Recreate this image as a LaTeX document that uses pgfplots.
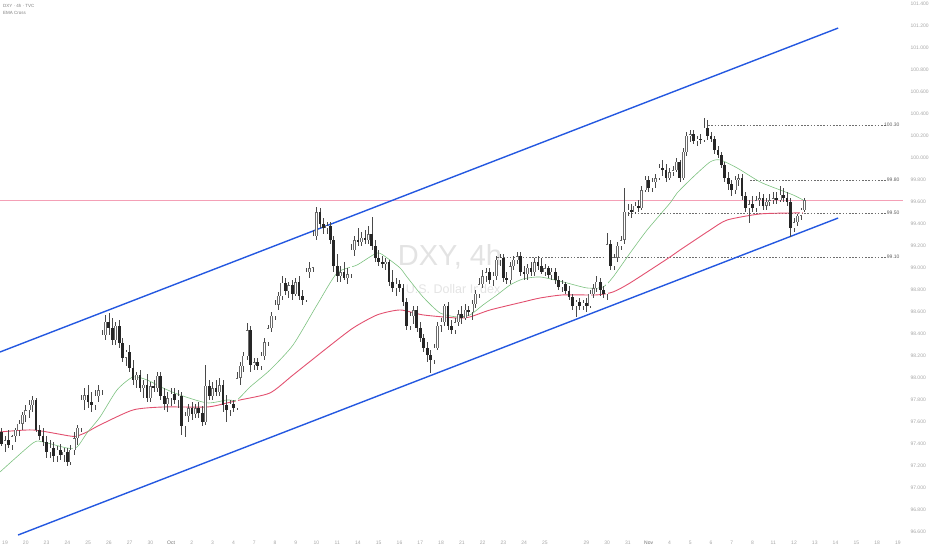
\documentclass[border=0pt]{standalone}
\usepackage{fontspec}
\setmainfont{Liberation Sans}
\usepackage{pgfplots}
\usepackage{pgfplotstable}
\pgfplotsset{compat=1.18}

\definecolor{chan}{HTML}{2458E0}
\definecolor{emafast}{HTML}{7DC280}
\definecolor{emaslow}{HTML}{E2506F}
\definecolor{priceln}{RGB}{244,160,182}
\definecolor{candle}{HTML}{262626}
\definecolor{outline}{HTML}{6A6A6A}
\definecolor{wick}{HTML}{4A4A4A}
\definecolor{lbl}{HTML}{A6A6A6}
\definecolor{wm}{HTML}{E3E3E3}
\definecolor{lvl}{HTML}{6E6E6E}

% 4h candles, one row per bar: open high low close
\pgfplotstableread{
o h l c
97.509 97.545 97.381 97.400
97.400 97.472 97.327 97.436
97.436 97.527 97.363 97.391
97.391 97.482 97.345 97.472
97.472 97.545 97.418 97.527
97.527 97.618 97.472 97.582
97.582 97.691 97.527 97.664
97.664 97.755 97.600 97.709
97.709 97.800 97.636 97.755
97.755 97.836 97.691 97.800
97.800 97.818 97.509 97.527
97.527 97.573 97.436 97.472
97.472 97.545 97.381 97.418
97.418 97.472 97.273 97.327
97.327 97.436 97.273 97.363
97.363 97.418 97.236 97.291
97.291 97.381 97.236 97.345
97.345 97.400 97.255 97.300
97.300 97.363 97.236 97.327
97.327 97.363 97.200 97.236
97.236 97.391 97.209 97.345
97.345 97.509 97.300 97.454
97.454 97.573 97.391 97.545
97.545 97.845 97.509 97.800
97.800 97.909 97.709 97.845
97.845 97.936 97.727 97.782
97.782 97.873 97.691 97.755
97.755 97.891 97.709 97.836
97.836 97.936 97.782 97.891
97.891 98.436 97.845 98.391
98.391 98.573 98.345 98.509
98.509 98.591 98.391 98.454
98.454 98.545 98.300 98.345
98.345 98.509 98.300 98.472
98.472 98.527 98.273 98.318
98.318 98.364 98.145 98.182
98.182 98.255 98.109 98.236
98.236 98.300 98.055 98.091
98.091 98.164 97.936 97.982
97.982 98.055 97.909 98.027
98.027 98.073 97.873 97.909
97.909 97.982 97.818 97.936
97.936 98.036 97.782 97.818
97.818 97.964 97.782 97.927
97.927 97.982 97.873 97.909
97.909 98.055 97.873 98.018
98.018 98.055 97.800 97.836
97.836 97.909 97.709 97.764
97.764 97.873 97.691 97.818
97.818 97.909 97.745 97.855
97.855 97.909 97.764 97.800
97.800 97.891 97.727 97.836
97.836 97.873 97.482 97.564
97.564 97.691 97.463 97.655
97.655 97.764 97.600 97.727
97.727 97.782 97.618 97.673
97.673 97.764 97.636 97.727
97.727 97.782 97.636 97.682
97.682 97.745 97.564 97.600
97.600 98.118 97.573 97.927
97.927 97.982 97.800 97.836
97.836 97.964 97.800 97.909
97.909 97.982 97.836 97.873
97.873 98.000 97.836 97.936
97.936 97.982 97.691 97.755
97.755 97.845 97.600 97.709
97.709 97.800 97.655 97.764
97.764 97.800 97.691 97.727
97.727 98.055 97.709 98.000
98.000 98.145 97.936 98.109
98.109 98.236 98.055 98.200
98.200 98.500 98.164 98.436
98.436 98.472 98.055 98.118
98.118 98.182 98.073 98.145
98.145 98.182 98.073 98.109
98.109 98.236 98.073 98.200
98.200 98.364 98.164 98.327
98.327 98.482 98.291 98.454
98.454 98.600 98.418 98.564
98.564 98.709 98.527 98.664
98.664 98.782 98.618 98.745
98.745 98.927 98.709 98.864
98.864 98.909 98.755 98.791
98.791 98.873 98.727 98.845
98.845 98.891 98.709 98.764
98.764 98.909 98.745 98.873
98.873 98.927 98.709 98.745
98.745 98.800 98.664 98.709
98.709 99.000 98.691 98.964
98.964 99.055 98.909 99.000
99.000 99.345 98.964 99.291
99.291 99.555 99.255 99.509
99.509 99.545 99.364 99.400
99.400 99.455 99.309 99.364
99.364 99.418 99.309 99.382
99.382 99.418 99.218 99.255
99.255 99.291 98.964 99.018
99.018 99.127 98.873 98.927
98.927 99.018 98.873 98.964
98.964 99.055 98.891 98.909
98.909 99.000 98.855 98.945
98.945 99.218 98.909 99.164
99.164 99.291 99.109 99.255
99.255 99.364 99.200 99.236
99.236 99.327 99.200 99.273
99.273 99.345 99.218 99.255
99.255 99.382 99.218 99.309
99.309 99.464 99.164 99.200
99.200 99.255 99.055 99.091
99.091 99.164 99.018 99.055
99.055 99.109 99.000 99.036
99.036 99.091 98.982 99.055
99.055 99.073 98.836 98.873
98.873 98.982 98.782 98.818
98.818 98.909 98.745 98.855
98.855 98.891 98.782 98.818
98.818 98.855 98.655 98.691
98.691 98.727 98.436 98.473
98.473 98.600 98.436 98.564
98.564 98.655 98.491 98.618
98.618 98.655 98.418 98.454
98.454 98.509 98.327 98.364
98.364 98.400 98.236 98.273
98.273 98.327 98.145 98.209
98.209 98.255 98.045 98.164
98.164 98.309 98.127 98.273
98.273 98.509 98.255 98.473
98.473 98.545 98.418 98.509
98.509 98.673 98.473 98.655
98.655 98.691 98.436 98.473
98.473 98.527 98.400 98.436
98.436 98.545 98.400 98.509
98.509 98.618 98.473 98.582
98.582 98.655 98.491 98.545
98.545 98.673 98.527 98.618
98.618 98.655 98.564 98.600
98.600 98.709 98.527 98.673
98.673 98.800 98.636 98.764
98.764 98.909 98.727 98.855
98.855 98.982 98.818 98.927
98.927 99.000 98.873 98.964
98.964 99.000 98.855 98.891
98.891 98.964 98.836 98.927
98.927 99.109 98.891 99.073
99.073 99.127 99.018 99.091
99.091 99.127 98.873 98.909
98.909 98.964 98.855 98.891
98.891 99.055 98.855 99.018
99.018 99.109 98.982 99.073
99.073 99.145 99.036 99.109
99.109 99.145 98.927 98.964
98.964 99.018 98.891 98.945
98.945 99.036 98.891 99.000
99.000 99.055 98.927 98.964
98.964 99.091 98.927 99.055
99.055 99.109 98.982 99.018
99.018 99.091 98.945 98.964
98.964 99.036 98.927 99.000
99.000 99.018 98.909 98.936
98.936 99.000 98.891 98.964
98.964 99.000 98.855 98.891
98.891 98.927 98.800 98.827
98.827 98.891 98.782 98.855
98.855 98.873 98.764 98.791
98.791 98.836 98.709 98.736
98.736 98.764 98.618 98.655
98.655 98.709 98.555 98.691
98.691 98.727 98.618 98.655
98.655 98.709 98.618 98.682
98.682 98.727 98.600 98.655
98.655 98.800 98.636 98.764
98.764 98.855 98.727 98.818
98.818 98.927 98.782 98.873
98.873 98.909 98.745 98.800
98.800 98.836 98.727 98.764
98.764 99.318 98.709 99.218
99.218 99.255 98.982 99.018
99.018 99.127 98.982 99.091
99.091 99.236 99.055 99.200
99.200 99.291 99.164 99.255
99.255 99.727 99.218 99.509
99.509 99.582 99.473 99.527
99.527 99.582 99.455 99.509
99.509 99.600 99.491 99.564
99.564 99.618 99.509 99.545
99.545 99.745 99.527 99.709
99.709 99.836 99.691 99.800
99.800 99.836 99.691 99.727
99.727 99.818 99.691 99.782
99.782 99.855 99.727 99.818
99.818 99.945 99.800 99.909
99.909 99.982 99.836 99.891
99.891 99.945 99.782 99.818
99.818 99.909 99.800 99.873
99.873 99.927 99.836 99.891
99.891 100.000 99.873 99.964
99.964 99.982 99.782 99.818
99.818 100.091 99.800 100.055
100.055 100.236 100.018 100.200
100.200 100.255 100.145 100.218
100.218 100.255 100.127 100.155
100.155 100.200 100.109 100.173
100.173 100.218 100.127 100.164
100.164 100.364 100.145 100.273
100.273 100.345 100.164 100.200
100.200 100.236 100.145 100.173
100.173 100.200 100.036 100.073
100.073 100.109 100.000 100.027
100.027 100.055 99.909 99.936
99.936 99.964 99.782 99.818
99.818 99.873 99.709 99.764
99.764 99.800 99.655 99.709
99.709 99.836 99.673 99.800
99.800 99.855 99.745 99.818
99.818 99.855 99.618 99.655
99.655 99.691 99.509 99.545
99.545 99.618 99.409 99.582
99.582 99.655 99.509 99.545
99.545 99.655 99.509 99.618
99.618 99.691 99.564 99.636
99.636 99.673 99.527 99.564
99.564 99.636 99.527 99.600
99.600 99.673 99.564 99.618
99.618 99.691 99.582 99.636
99.636 99.691 99.582 99.618
99.618 99.745 99.600 99.664
99.664 99.727 99.600 99.636
99.636 99.691 99.564 99.600
99.600 99.636 99.282 99.364
99.364 99.455 99.327 99.418
99.418 99.491 99.382 99.473
99.473 99.545 99.436 99.527
99.527 99.636 99.509 99.618
}\candles

\pgfplotstableread{
k p
-0.45 97.509
9.09 97.527
19.79 97.472
21.81 97.472
24.70 97.509
28.46 97.573
37.99 97.709
46.66 97.736
59.38 97.736
65.16 97.773
68.92 97.800
77.59 97.864
84.24 98.027
94.06 98.273
101.58 98.454
108.52 98.573
115.16 98.618
121.81 98.573
131.64 98.545
135.39 98.555
141.17 98.618
150.71 98.691
155.63 98.727
162.27 98.755
172.10 98.755
176.72 98.782
181.64 98.864
193.20 99.100
196.09 99.164
204.76 99.345
209.67 99.436
219.20 99.491
228.74 99.500
231.63 99.500
}\emaslowtab

\pgfplotstableread{
k p
-0.45 97.145
9.09 97.409
11.98 97.418
18.92 97.363
21.81 97.372
24.70 97.500
28.46 97.645
33.37 97.891
37.99 98.009
42.04 97.982
46.66 97.909
51.58 97.845
59.38 97.773
65.16 97.800
68.05 97.800
71.81 97.918
77.59 98.073
84.24 98.300
91.17 98.664
96.95 98.954
102.73 99.027
108.52 99.136
111.41 99.091
115.16 99.000
117.18 98.918
121.81 98.736
126.72 98.591
131.64 98.555
135.39 98.573
139.15 98.664
143.20 98.755
146.95 98.845
150.71 98.900
155.63 98.918
162.27 98.873
169.21 98.818
173.83 98.827
176.72 98.918
181.64 99.136
186.55 99.345
193.20 99.591
195.23 99.682
199.85 99.827
204.76 99.964
207.65 99.982
212.57 99.909
219.20 99.782
224.98 99.709
228.74 99.664
231.63 99.618
}\emafasttab

\begin{document}
\begin{tikzpicture}
\useasboundingbox (0,0) rectangle (932pt,-550pt);
\begin{axis}[
    at={(0pt,0pt)}, anchor=north west,
    scale only axis,
    width=903pt, height=537pt,
    xmin=-0.445, xmax=260.5,
    ymin=96.554, ymax=101.436,
    axis line style={draw=none},
    major tick length=0pt,
    tick style={draw=none},
    yticklabel pos=right,
    xtick={1,7,13,19,25,31,37,43,49,55,61,67,73,79,85,91,97,103,109,115,121,127,133,139,145,151,157,169,175,181,187,193,199,205,211,217,223,229,235,241,247,253,259},
    xticklabels={19,20,23,24,25,26,27,30,{\color{lvl}Oct},2,3,4,7,8,9,10,11,14,15,16,17,18,21,22,23,24,25,29,30,31,{\color{lvl}Nov},4,5,6,7,8,11,12,13,14,15,18,19},
    ytick={96.6,96.8,97.0,97.2,97.4,97.6,97.8,98.0,98.2,98.4,98.6,98.8,99.0,99.2,99.4,99.6,99.8,100.0,100.2,100.4,100.6,100.8,101.0,101.2,101.4},
    yticklabels={96.600,96.800,97.000,97.200,97.400,97.600,97.800,98.000,98.200,98.400,98.600,98.800,99.000,99.200,99.400,99.600,99.800,100.000,100.200,100.400,100.600,100.800,101.000,101.200,101.400},
    tick label style={font=\fontsize{5}{6}\selectfont, text=lbl},
    yticklabel style={anchor=west, xshift=4pt},
    xticklabel style={anchor=north, yshift=-0.5pt},
]
% watermark
\node[font=\fontsize{29}{30}\selectfont, text=wm] at (axis cs:129.6,99.10) {DXY, 4h};
\node[font=\fontsize{12.5}{13}\selectfont, text=wm] at (axis cs:130.5,98.81) {U.S. Dollar Index};

% current price line
\addplot[color=priceln, line width=1pt, forget plot] coordinates {(-0.445,99.609) (260.5,99.609)};

% key levels
\addplot[lvl, line width=0.5pt, dash pattern=on 1.6pt off 1.6pt, forget plot] coordinates {(204.2,100.30) (255.6,100.30)};
\addplot[lvl, line width=0.5pt, dash pattern=on 1.6pt off 1.6pt, forget plot] coordinates {(216.3,99.80) (255.6,99.80)};
\addplot[lvl, line width=0.5pt, dash pattern=on 1.6pt off 1.6pt, forget plot] coordinates {(181.1,99.50) (255.6,99.50)};
\addplot[lvl, line width=0.5pt, dash pattern=on 1.6pt off 1.6pt, forget plot] coordinates {(143.2,99.10) (255.6,99.10)};

% EMAs
\addplot[emaslow, line width=0.9pt, smooth, tension=0.4, forget plot] table[x=k, y=p] {\emaslowtab};
\addplot[emafast, line width=0.6pt, smooth, tension=0.4, forget plot] table[x=k, y=p] {\emafasttab};

% channel
\addplot[chan, line width=1.4pt, forget plot] coordinates {(-0.445,98.236) (241.75,101.181)};
\addplot[chan, line width=1.4pt, forget plot] coordinates {(4.76,96.572) (241.75,99.454)};

% wicks
\addplot[draw=none, mark=none, forget plot,
    error bars/.cd, y dir=both, y explicit, error mark=none,
    error bar style={draw=wick, line width=0.6pt}]
    table[x expr=\coordindex, y expr={(\thisrow{h}+\thisrow{l})/2},
          y error expr={(\thisrow{h}-\thisrow{l})/2}] {\candles};
% body outlines
\addplot[draw=none, mark=none, forget plot,
    error bars/.cd, y dir=both, y explicit, error mark=none,
    error bar style={draw=outline, line width=2.7pt}]
    table[x expr=\coordindex, y expr={(\thisrow{o}+\thisrow{c})/2},
          y error expr={abs(\thisrow{o}-\thisrow{c})/2+0.002}] {\candles};
% hollow rising bodies
\addplot[draw=none, mark=none, forget plot,
    error bars/.cd, y dir=both, y explicit, error mark=none,
    error bar style={draw=white, line width=1.5pt}]
    table[x expr=\coordindex, y expr={(\thisrow{o}+\thisrow{c})/2},
          y error expr={max((\thisrow{c}-\thisrow{o})/2-0.004,0)}] {\candles};
% filled falling bodies
\addplot[draw=none, mark=none, forget plot,
    error bars/.cd, y dir=both, y explicit, error mark=none,
    error bar style={draw=candle, line width=2.7pt}]
    table[x expr=\coordindex, y expr={(\thisrow{o}+\thisrow{c})/2},
          y error expr={max((\thisrow{o}-\thisrow{c})/2,0)}] {\candles};

% level labels
\node[anchor=east, font=\fontsize{5}{6}\selectfont, text=lvl!85!black] at (axis cs:260.5,100.30) {100.30};
\node[anchor=east, font=\fontsize{5}{6}\selectfont, text=lvl!85!black] at (axis cs:260.5,99.80) {99.80};
\node[anchor=east, font=\fontsize{5}{6}\selectfont, text=lvl!85!black] at (axis cs:260.5,99.50) {99.50};
\node[anchor=east, font=\fontsize{5}{6}\selectfont, text=lvl!85!black] at (axis cs:260.5,99.10) {99.10};

% header
\node[anchor=north west, font=\fontsize{4.5}{5}\selectfont, text=gray, align=left, inner sep=0pt]
    at (rel axis cs:0,1) [xshift=3pt, yshift=-4.5pt] {DXY · 4h · TVC\\[1.6pt]EMA Cross};
\end{axis}
\end{tikzpicture}
\end{document}
